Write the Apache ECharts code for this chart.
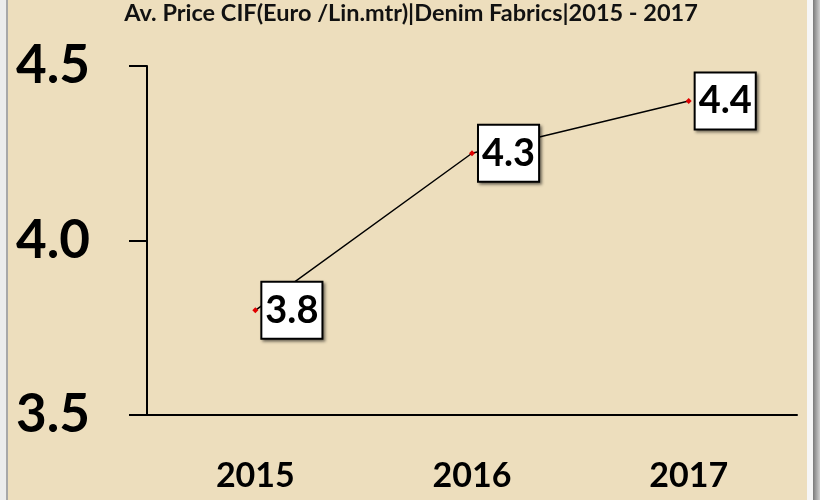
<!DOCTYPE html>
<html>
<head>
<meta charset="utf-8">
<script src="https://cdn.jsdelivr.net/npm/echarts@6/dist/echarts.min.js"></script>
<style>html,body{margin:0;padding:0;background:#fff;}#c{width:820px;height:500px;}</style>
</head>
<body>
<div id="c"></div>
<script>
const titleText = 'Av. Price CIF(Euro /Lin.mtr)|Denim Fabrics|2015 - 2017';
const categories = ['2015', '2016', '2017'];
const priceValues = [3.8, 4.25, 4.4];
const yMin = 3.5, yMax = 4.5, yStep = 0.5;

const chart = echarts.init(document.getElementById('c'), null, {renderer: 'canvas'});
chart.setOption({
  backgroundColor: '#EDDEBD',
  animation: false,
  title: {
    text: titleText,
    left: 406, textAlign: 'center', top: -4,
    textStyle: {fontFamily: 'Lato', fontWeight: 'bold', fontSize: 23.5, color: '#111'}
  },
  graphic: [
    {type: 'rect', shape: {x: 0, y: 0, width: 6, height: 500}, style: {fill: '#ececec'}, silent: true},
    {type: 'rect', shape: {x: 6, y: 0, width: 2, height: 500}, style: {fill: '#a8a8a8'}, silent: true},
    {type: 'rect', shape: {x: 807, y: 0, width: 6, height: 500}, style: {fill: '#f6f6f6'}, silent: true},
    {type: 'rect', shape: {x: 813, y: 0, width: 7, height: 500}, style: {fill: new echarts.graphic.LinearGradient(0,0,1,0,[{offset:0,color:'#7a7a7a'},{offset:1,color:'#d0d0d0'}])}, silent: true}
  ],
  grid: {left: 147, right: 23, top: 66, bottom: 85, containLabel: false},
  xAxis: {
    type: 'category', data: categories, boundaryGap: true,
    axisLine: {lineStyle: {color: '#000', width: 2}},
    axisTick: {show: false},
    axisLabel: {margin: 44, fontFamily: 'Lato', fontWeight: 'bold', fontSize: 34, color: '#000'}
  },
  yAxis: {
    type: 'value', min: yMin, max: yMax, interval: yStep,
    splitLine: {show: false},
    axisLine: {show: true, lineStyle: {color: '#000', width: 2}},
    axisTick: {show: true, length: 18, lineStyle: {color: '#000', width: 2}},
    axisLabel: {margin: 57, fontFamily: 'Lato', fontWeight: 'bold', fontSize: 53, color: '#000',
      formatter: v => v.toFixed(1)}
  },
  series: [{
    type: 'line', data: priceValues,
    lineStyle: {color: '#000', width: 1.5},
    symbol: 'diamond', symbolSize: 6,
    itemStyle: {color: '#e00000'},
    label: {
      show: true, position: 'right', distance: 4,
      formatter: p => p.value.toFixed(1),
      fontFamily: 'Lato', fontWeight: 'bold', fontSize: 38, lineHeight: 38, color: '#000',
      backgroundColor: '#fff', borderColor: '#000', borderWidth: 2,
      padding: [10, 3, 7, 3],
      shadowColor: 'rgba(0,0,0,0.45)', shadowBlur: 3, shadowOffsetX: 2, shadowOffsetY: 2
    }
  }]
});
</script>
</body>
</html>
